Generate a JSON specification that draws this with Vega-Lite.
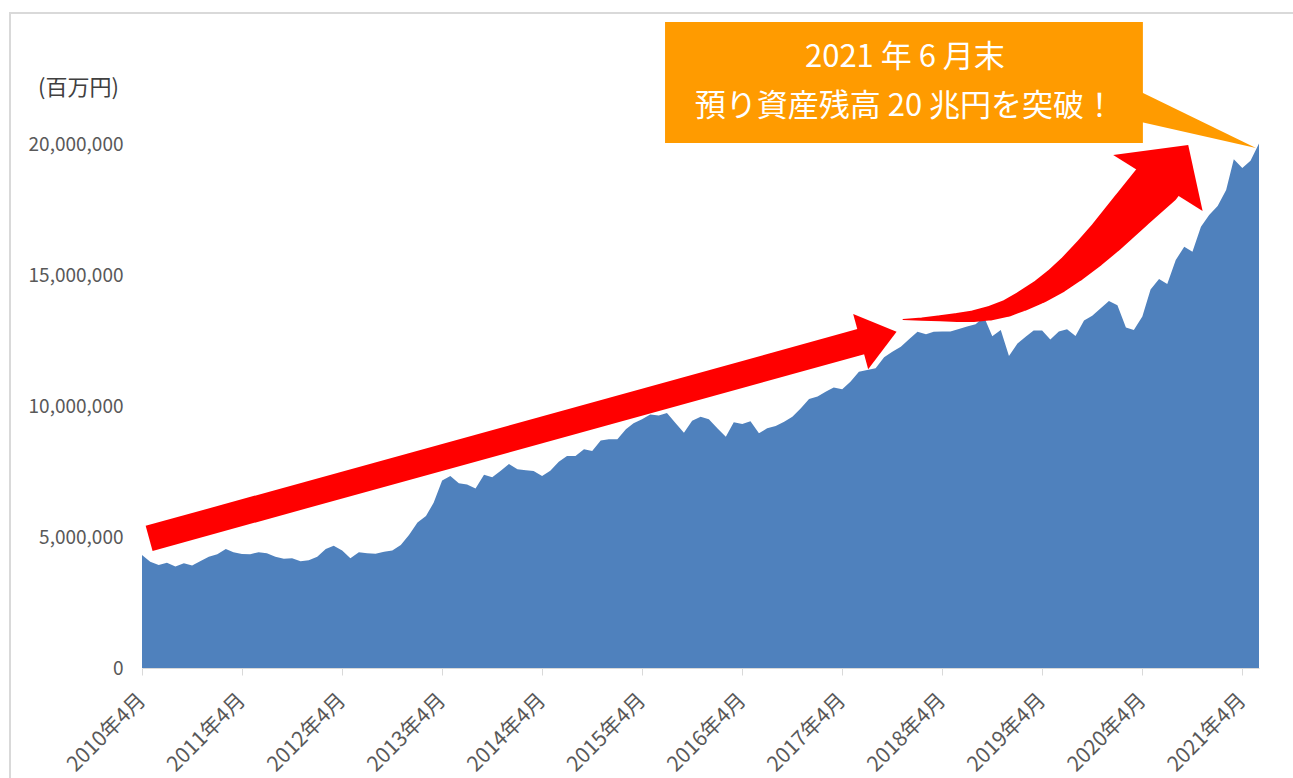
{
  "$schema": "https://vega.github.io/schema/vega-lite/v6.json",
  "width": 1117,
  "height": 524,
  "autosize": {"type": "none"},
  "padding": {"left": 142, "top": 144, "right": 34, "bottom": 110},
  "background": "white",
  "config": {"view": {"stroke": null}, "font": "Noto Sans CJK JP"},
  "encoding": {
    "x": {
      "field": "date", "type": "temporal",
      "scale": {"type": "utc", "domain": [{"year": 2010, "month": 4, "date": 1, "utc": true}, {"year": 2021, "month": 6, "date": 1, "utc": true}]},
      "axis": {
        "title": null, "grid": false,
        "values": [
          {"year": 2010, "month": 4, "date": 1, "utc": true},
          {"year": 2011, "month": 4, "date": 1, "utc": true},
          {"year": 2012, "month": 4, "date": 1, "utc": true},
          {"year": 2013, "month": 4, "date": 1, "utc": true},
          {"year": 2014, "month": 4, "date": 1, "utc": true},
          {"year": 2015, "month": 4, "date": 1, "utc": true},
          {"year": 2016, "month": 4, "date": 1, "utc": true},
          {"year": 2017, "month": 4, "date": 1, "utc": true},
          {"year": 2018, "month": 4, "date": 1, "utc": true},
          {"year": 2019, "month": 4, "date": 1, "utc": true},
          {"year": 2020, "month": 4, "date": 1, "utc": true},
          {"year": 2021, "month": 4, "date": 1, "utc": true}
        ],
        "labelExpr": "utcFormat(datum.value, '%Y年%-m月')",
        "domainColor": "#d9d9d9", "domainWidth": 1,
        "tickColor": "#d9d9d9", "tickSize": 7, "tickWidth": 1,
        "labelAngle": -45, "labelAlign": "right", "labelBaseline": "middle",
        "labelPadding": 22, "labelFontSize": 21, "labelColor": "#595959",
        "labelFont": "Noto Sans CJK JP",
        "labelOverlap": false, "labelFlush": false, "labelBound": false
      }
    },
    "y": {
      "field": "value", "type": "quantitative",
      "scale": {"domain": [0, 20000000], "nice": false, "zero": true},
      "axis": {
        "title": "(百万円)", "titleAngle": 0, "titleX": -64, "titleY": -57,
        "titleAlign": "center", "titleBaseline": "middle",
        "titleFontSize": 22, "titleFontWeight": "normal", "titleColor": "#404040",
        "titleFont": "Noto Sans CJK JP",
        "values": [0, 5000000, 10000000, 15000000, 20000000],
        "labelExpr": "format(datum.value, ',.0f')",
        "grid": false, "ticks": false, "tickSize": 0, "domain": false,
        "labelPadding": 19, "labelFontSize": 19, "labelColor": "#595959",
        "labelFont": "Noto Sans CJK JP"
      }
    }
  },
  "layer": [
    {
      "data": {"values": [{"date": "2008-12-05", "date2": "2022-12-31", "value": 25000000, "value2": -5000000}]},
      "mark": {"type": "rect", "fill": "transparent", "stroke": "#d9d9d9", "strokeWidth": 2},
      "encoding": {"x2": {"field": "date2"}, "y2": {"field": "value2"}}
    },
    {
      "data": {"values": [
        {"date": "2010-04-01", "value": 4310000}, {"date": "2010-05-01", "value": 4060000}, {"date": "2010-06-01", "value": 3930000},
        {"date": "2010-07-01", "value": 4020000}, {"date": "2010-08-01", "value": 3870000}, {"date": "2010-09-01", "value": 4000000},
        {"date": "2010-10-01", "value": 3910000}, {"date": "2010-11-01", "value": 4080000}, {"date": "2010-12-01", "value": 4250000},
        {"date": "2011-01-01", "value": 4340000}, {"date": "2011-02-01", "value": 4540000}, {"date": "2011-03-01", "value": 4420000},
        {"date": "2011-04-01", "value": 4350000}, {"date": "2011-05-01", "value": 4340000}, {"date": "2011-06-01", "value": 4420000},
        {"date": "2011-07-01", "value": 4380000}, {"date": "2011-08-01", "value": 4250000}, {"date": "2011-09-01", "value": 4170000},
        {"date": "2011-10-01", "value": 4190000}, {"date": "2011-11-01", "value": 4070000}, {"date": "2011-12-01", "value": 4110000},
        {"date": "2012-01-01", "value": 4250000}, {"date": "2012-02-01", "value": 4540000}, {"date": "2012-03-01", "value": 4670000},
        {"date": "2012-04-01", "value": 4480000}, {"date": "2012-05-01", "value": 4190000}, {"date": "2012-06-01", "value": 4420000},
        {"date": "2012-07-01", "value": 4380000}, {"date": "2012-08-01", "value": 4360000}, {"date": "2012-09-01", "value": 4440000},
        {"date": "2012-10-01", "value": 4480000}, {"date": "2012-11-01", "value": 4690000}, {"date": "2012-12-01", "value": 5080000},
        {"date": "2013-01-01", "value": 5550000}, {"date": "2013-02-01", "value": 5800000}, {"date": "2013-03-01", "value": 6310000},
        {"date": "2013-04-01", "value": 7160000}, {"date": "2013-05-01", "value": 7330000}, {"date": "2013-06-01", "value": 7050000},
        {"date": "2013-07-01", "value": 7000000}, {"date": "2013-08-01", "value": 6850000}, {"date": "2013-09-01", "value": 7380000},
        {"date": "2013-10-01", "value": 7280000}, {"date": "2013-11-01", "value": 7530000}, {"date": "2013-12-01", "value": 7790000},
        {"date": "2014-01-01", "value": 7590000}, {"date": "2014-02-01", "value": 7550000}, {"date": "2014-03-01", "value": 7520000},
        {"date": "2014-04-01", "value": 7330000}, {"date": "2014-05-01", "value": 7530000}, {"date": "2014-06-01", "value": 7870000},
        {"date": "2014-07-01", "value": 8090000}, {"date": "2014-08-01", "value": 8090000}, {"date": "2014-09-01", "value": 8350000},
        {"date": "2014-10-01", "value": 8280000}, {"date": "2014-11-01", "value": 8680000}, {"date": "2014-12-01", "value": 8730000},
        {"date": "2015-01-01", "value": 8730000}, {"date": "2015-02-01", "value": 9110000}, {"date": "2015-03-01", "value": 9340000},
        {"date": "2015-04-01", "value": 9490000}, {"date": "2015-05-01", "value": 9680000}, {"date": "2015-06-01", "value": 9640000},
        {"date": "2015-07-01", "value": 9730000}, {"date": "2015-08-01", "value": 9350000}, {"date": "2015-09-01", "value": 8980000},
        {"date": "2015-10-01", "value": 9440000}, {"date": "2015-11-01", "value": 9590000}, {"date": "2015-12-01", "value": 9490000},
        {"date": "2016-01-01", "value": 9150000}, {"date": "2016-02-01", "value": 8830000}, {"date": "2016-03-01", "value": 9380000},
        {"date": "2016-04-01", "value": 9310000}, {"date": "2016-05-01", "value": 9420000}, {"date": "2016-06-01", "value": 8960000},
        {"date": "2016-07-01", "value": 9150000}, {"date": "2016-08-01", "value": 9240000}, {"date": "2016-09-01", "value": 9400000},
        {"date": "2016-10-01", "value": 9590000}, {"date": "2016-11-01", "value": 9910000}, {"date": "2016-12-01", "value": 10270000},
        {"date": "2017-01-01", "value": 10360000}, {"date": "2017-02-01", "value": 10550000}, {"date": "2017-03-01", "value": 10710000},
        {"date": "2017-04-01", "value": 10640000}, {"date": "2017-05-01", "value": 10930000}, {"date": "2017-06-01", "value": 11310000},
        {"date": "2017-07-01", "value": 11370000}, {"date": "2017-08-01", "value": 11440000}, {"date": "2017-09-01", "value": 11860000},
        {"date": "2017-10-01", "value": 12070000}, {"date": "2017-11-01", "value": 12260000}, {"date": "2017-12-01", "value": 12550000},
        {"date": "2018-01-01", "value": 12830000}, {"date": "2018-02-01", "value": 12740000}, {"date": "2018-03-01", "value": 12830000},
        {"date": "2018-04-01", "value": 12840000}, {"date": "2018-05-01", "value": 12840000}, {"date": "2018-06-01", "value": 12940000},
        {"date": "2018-07-01", "value": 13030000}, {"date": "2018-08-01", "value": 13120000}, {"date": "2018-09-01", "value": 13400000},
        {"date": "2018-10-01", "value": 12660000}, {"date": "2018-11-01", "value": 12900000}, {"date": "2018-12-01", "value": 11910000},
        {"date": "2019-01-01", "value": 12390000}, {"date": "2019-02-01", "value": 12650000}, {"date": "2019-03-01", "value": 12880000},
        {"date": "2019-04-01", "value": 12880000}, {"date": "2019-05-01", "value": 12540000}, {"date": "2019-06-01", "value": 12840000},
        {"date": "2019-07-01", "value": 12930000}, {"date": "2019-08-01", "value": 12670000}, {"date": "2019-09-01", "value": 13260000},
        {"date": "2019-10-01", "value": 13440000}, {"date": "2019-11-01", "value": 13730000}, {"date": "2019-12-01", "value": 14010000},
        {"date": "2020-01-01", "value": 13850000}, {"date": "2020-02-01", "value": 13000000}, {"date": "2020-03-01", "value": 12900000},
        {"date": "2020-04-01", "value": 13420000}, {"date": "2020-05-01", "value": 14450000}, {"date": "2020-06-01", "value": 14850000},
        {"date": "2020-07-01", "value": 14660000}, {"date": "2020-08-01", "value": 15570000}, {"date": "2020-09-01", "value": 16080000},
        {"date": "2020-10-01", "value": 15890000}, {"date": "2020-11-01", "value": 16840000}, {"date": "2020-12-01", "value": 17290000},
        {"date": "2021-01-01", "value": 17630000}, {"date": "2021-02-01", "value": 18240000}, {"date": "2021-03-01", "value": 19420000},
        {"date": "2021-04-01", "value": 19080000}, {"date": "2021-05-01", "value": 19360000}, {"date": "2021-06-01", "value": 20020000}
      ]},
      "mark": {"type": "area", "color": "#4f81bd", "interpolate": "linear"}
    },
    {
      "data": {"values": [{"date": "2010-04-27", "value": 4946600, "date2": "2017-06-18", "value2": 12484700}]},
      "mark": {"type": "rule", "color": "#ff0000", "strokeWidth": 26, "strokeCap": "butt"},
      "encoding": {"x2": {"field": "date2"}, "y2": {"field": "value2"}}
    },
    {
      "data": {"values": [{"date": "2017-06-18", "value": 12484700}]},
      "mark": {"type": "point", "shape": "M -0.26 -0.6725 L 0.825 -0.23 L 0.115 0.71 Z", "size": 6400, "filled": true, "color": "#ff0000", "opacity": 1, "strokeWidth": 0}
    },
    {
      "data": {"values": [
        {"date": "2017-11-09", "value": 13301500, "t": 0},
        {"date": "2018-01-17", "value": 13316800, "t": 0.063},
        {"date": "2018-03-24", "value": 13347300, "t": 0.122},
        {"date": "2018-05-25", "value": 13377900, "t": 0.178},
        {"date": "2018-07-23", "value": 13427500, "t": 0.232},
        {"date": "2018-09-23", "value": 13542000, "t": 0.289},
        {"date": "2018-11-23", "value": 13729000, "t": 0.346},
        {"date": "2019-01-21", "value": 14015300, "t": 0.405},
        {"date": "2019-03-24", "value": 14362600, "t": 0.469},
        {"date": "2019-05-25", "value": 14790100, "t": 0.537},
        {"date": "2019-07-24", "value": 15286300, "t": 0.605},
        {"date": "2019-09-23", "value": 15858800, "t": 0.679},
        {"date": "2019-11-24", "value": 16488500, "t": 0.758},
        {"date": "2020-02-23", "value": 17500000, "t": 0.878},
        {"date": "2020-05-26", "value": 18522900, "t": 1.0}
      ]},
      "mark": {"type": "trail", "color": "#ff0000"},
      "encoding": {
        "size": {"field": "t", "type": "quantitative", "scale": {"domain": [0, 1], "range": [0, 50]}, "legend": null},
        "order": {"field": "t", "type": "quantitative"}
      }
    },
    {
      "data": {"values": [{"date": "2020-05-26", "value": 18522900}]},
      "mark": {"type": "point", "shape": "M -0.884 -0.554 L 0.616 -0.754 L 0.904 0.566 Z", "size": 10000, "filled": true, "color": "#ff0000", "opacity": 1, "strokeWidth": 0}
    },
    {
      "data": {"values": [{"date": "2015-06-24", "date2": "2020-04-03", "value": 24656500, "value2": 20038200}]},
      "mark": {"type": "rect", "color": "#ff9b00"},
      "encoding": {"x2": {"field": "date2"}, "y2": {"field": "value2"}}
    },
    {
      "data": {"values": [
        {"date": "2020-03-27", "value": 21984800, "value2": 20839700},
        {"date": "2021-05-21", "value": 19847300, "value2": 19847300}
      ]},
      "mark": {"type": "area", "color": "#ff9b00", "interpolate": "linear"},
      "encoding": {"y2": {"field": "value2"}}
    },
    {
      "data": {"values": [
        {"date": "2017-11-16", "value": 23263400, "label": "2021 年 6 月末"},
        {"date": "2017-11-16", "value": 21412200, "label": "預り資産残高 20 兆円を突破！"}
      ]},
      "mark": {"type": "text", "color": "white", "fontSize": 31, "font": "Noto Sans CJK JP", "align": "center", "baseline": "middle"},
      "encoding": {"text": {"field": "label"}}
    }
  ]
}
